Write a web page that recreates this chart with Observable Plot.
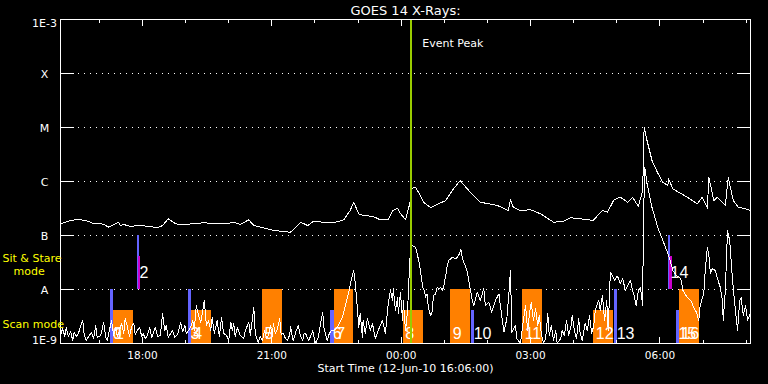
<!DOCTYPE html>
<html><head><meta charset="utf-8">
<script src="https://cdn.jsdelivr.net/npm/d3@7"></script>
<script src="https://cdn.jsdelivr.net/npm/@observablehq/plot@0.6"></script>
<style>
html,body{margin:0;padding:0;background:#000;}
#chart{width:768px;height:384px;overflow:hidden;}
</style></head><body><div id="chart"></div>
<script>
// ---- data (minutes after 12-Jun-10 16:06:00 UT, flux W/m^2) ----
const startTime = "2010-06-12T16:06:00Z";
const spanMinutes = 960;
const peakMinute = 488;
const chartTitle = "GOES 14 X-Rays:";
const xTitle = "Start Time (12-Jun-10 16:06:00)";
const levelFlux = [1e-9, 1e-8, 1e-7, 1e-6, 1e-5, 1e-4, 1e-3];
const levelLabel = ["1E-9", "A", "B", "C", "M", "X", "1E-3"];
const tickLabels = ["18:00", "21:00", "00:00", "03:00", "06:00"];
const tickMinutes = [114, 294, 474, 654, 834];
const hourMinutes = [54, 114, 174, 234, 294, 354, 414, 474, 534, 594, 654, 714, 774, 834, 894, 954];

// GOES long channel (1-8 A)
const longChannel = [
[0,1.65e-7],[7,1.76e-7],[14,1.90e-7],[21,1.95e-7],[28,1.95e-7],[35,1.90e-7],[42,1.76e-7],[46,1.65e-7],[53,1.70e-7],[60,1.60e-7],
[67,1.43e-7],[74,1.58e-7],[81,1.76e-7],[83,1.53e-7],[88,1.60e-7],[97,1.47e-7],[107,1.53e-7],[121,1.49e-7],[135,1.39e-7],[142,1.53e-7],
[150,2.04e-7],[160,1.65e-7],[167,1.58e-7],[185,1.65e-7],[199,1.72e-7],[218,1.65e-7],[232,1.65e-7],[241,1.76e-7],[250,1.60e-7],[262,1.95e-7],
[269,1.53e-7],[278,1.43e-7],[292,1.28e-7],[306,1.20e-7],[320,1.15e-7],[334,1.76e-7],[344,1.53e-7],[352,1.84e-7],[366,1.76e-7],[380,1.72e-7],
[394,1.95e-7],[403,2.90e-7],[408,4.14e-7],[415,2.52e-7],[422,2.35e-7],[435,2.25e-7],[445,1.95e-7],[456,1.95e-7],[462,2.90e-7],[469,3.16e-7],
[473,2.55e-7],[480,1.98e-7],[486,3.91e-7],[488,7.33e-7],[494,7.84e-7],[498,6.34e-7],[505,4.14e-7],[515,3.30e-7],[536,4.45e-7],[545,6.81e-7],
[556,1.04e-6],[568,6.81e-7],[584,4.14e-7],[608,3.59e-7],[623,2.90e-7],[626,4.58e-7],[630,3.34e-7],[640,2.90e-7],[654,3.00e-7],[668,2.52e-7],
[686,1.76e-7],[700,1.84e-7],[710,2.13e-7],[723,2.04e-7],[741,1.90e-7],[754,2.90e-7],[761,2.70e-7],[770,4.58e-7],[779,5.12e-7],[789,4.14e-7],
[796,5.12e-7],[804,3.44e-7],[810,6.81e-7],[812,1.01e-5],[816,5.74e-6],[823,2.45e-6],[831,1.43e-6],[838,9.7e-7],[845,8.43e-7],[846,1.12e-6],
[852,7.33e-7],[856,6.81e-7],[872,5.12e-7],[886,3.86e-7],[893,5.12e-7],[900,3.22e-7],[902,1.20e-6],[909,4.45e-7],[914,5.12e-7],[925,3.59e-7],
[929,1.17e-6],[936,4.45e-7],[943,3.34e-7],[953,3.12e-7],[960,2.90e-7]
];

// GOES short channel (0.5-4 A)
const shortChannel = [
[0,1.41e-9],[3,1.90e-9],[6,1.35e-9],[8,1.98e-9],[11,1.35e-9],[14,1.67e-9],[17,1.14e-9],[19,1.60e-9],[22,1.35e-9],[25,1.53e-9],
[28,2.15e-9],[31,2.67e-9],[33,1.41e-9],[36,1.14e-9],[39,1.35e-9],[43,1.60e-9],[46,1.24e-9],[49,2.15e-9],[51,1.29e-9],[56,1.41e-9],
[60,2.45e-9],[63,1.29e-9],[65,1.14e-9],[68,1.74e-9],[71,2.67e-9],[74,1.41e-9],[77,1.98e-9],[79,1.35e-9],[82,1.74e-9],[85,2.35e-9],
[88,1.53e-9],[90,2.90e-9],[93,2.06e-9],[96,1.35e-9],[99,2.06e-9],[102,2.35e-9],[104,1.47e-9],[107,1.74e-9],[110,1.98e-9],[113,1.35e-9],
[115,1.53e-9],[118,1.24e-9],[121,1.41e-9],[124,1.98e-9],[127,1.29e-9],[129,1.53e-9],[132,1.98e-9],[135,1.35e-9],[139,1.41e-9],[142,3.59e-9],
[145,1.74e-9],[147,2.15e-9],[150,1.29e-9],[153,1.53e-9],[156,1.74e-9],[159,1.29e-9],[163,1.47e-9],[167,2.45e-9],[170,1.67e-9],[173,2.15e-9],
[175,1.53e-9],[178,1.74e-9],[181,1.98e-9],[184,2.67e-9],[186,1.74e-9],[189,5.05e-9],[192,3.30e-9],[195,2.45e-9],[198,4.08e-9],[200,6.25e-9],
[203,2.15e-9],[206,2.67e-9],[209,1.74e-9],[211,3.03e-9],[214,1.53e-9],[218,2.67e-9],[221,1.35e-9],[224,3.03e-9],[227,1.53e-9],[231,1.41e-9],
[234,1.14e-9],[237,2.45e-9],[239,1.74e-9],[241,2.35e-9],[243,1.35e-9],[246,1.98e-9],[250,1.41e-9],[255,1.24e-9],[257,1.74e-9],[262,2.45e-9],
[264,1.41e-9],[269,4.64e-9],[271,1.53e-9],[275,1.04e-9],[278,1.35e-9],[281,1.14e-9],[284,1.74e-9],[287,1.24e-9],[289,1.41e-9],[292,2.15e-9],
[295,1.35e-9],[296,2.35e-9],[299,1.53e-9],[302,1.90e-9],[305,2.90e-9],[307,1.47e-9],[310,1.53e-9],[313,1.24e-9],[316,1.14e-9],[319,1.47e-9],
[320,2.06e-9],[323,1.24e-9],[324,1.14e-9],[328,1.74e-9],[331,2.15e-9],[334,1.35e-9],[337,1.14e-9],[339,1.53e-9],[341,1.53e-9],[345,1.14e-9],
[348,1.35e-9],[351,1.74e-9],[353,1.24e-9],[355,1.00e-9],[359,1.35e-9],[362,2.45e-9],[365,3.75e-9],[366,2.15e-9],[369,1.41e-9],[371,1.14e-9],
[374,1.53e-9],[377,1.74e-9],[380,1.74e-9],[385,1.98e-9],[392,3.03e-9],[397,5.50e-9],[401,8.80e-9],[405,1.60e-8],[408,2.25e-8],[410,1.35e-8],
[413,4.64e-9],[415,1.98e-9],[417,3.59e-9],[420,1.29e-9],[421,2.67e-9],[424,1.53e-9],[427,2.90e-9],[431,1.74e-9],[434,2.35e-9],[438,1.24e-9],
[442,1.74e-9],[448,2.67e-9],[452,1.53e-9],[456,5.50e-9],[459,9.58e-9],[462,6.25e-9],[463,1.04e-8],[466,4.08e-9],[469,7.11e-9],[470,3.59e-9],
[473,8.80e-9],[476,2.67e-9],[477,6.25e-9],[480,1.74e-9],[483,4.08e-9],[484,9.58e-9],[487,6.0e-8],[489,6.5e-8],[494,6.07e-8],[499,3.2e-8],
[501,2.09e-8],[504,1.10e-8],[506,9.58e-9],[508,7.2e-9],[510,8.32e-9],[512,4.4e-9],[515,3.30e-9],[517,3.8e-9],[519,7.74e-9],[522,8.32e-9],
[524,1.10e-8],[526,1.03e-8],[529,1.10e-8],[531,9.58e-9],[533,1.10e-8],[536,1.82e-8],[538,2.78e-8],[540,3.44e-8],[543,3.70e-8],[545,3.96e-8],
[550,3.70e-8],[554,4.26e-8],[557,5.50e-8],[559,3.96e-8],[561,3.20e-8],[563,2.78e-8],[566,2.09e-8],[568,1.47e-8],[570,1.03e-8],[573,6.25e-9],
[575,5.05e-9],[580,8.9e-9],[584,6.25e-9],[589,1.04e-8],[591,5.05e-9],[596,5.82e-9],[600,3.8e-9],[605,6.25e-9],[610,8.32e-9],[612,5.05e-9],
[617,1.62e-9],[621,2.90e-9],[624,8.9e-9],[626,2.25e-8],[628,1.62e-9],[633,2.15e-9],[635,1.22e-9],[640,1.00e-9],[644,2.67e-9],[647,5.05e-9],
[650,1.74e-9],[653,4.08e-9],[655,5.74e-9],[658,2.67e-9],[661,4.45e-9],[664,2.15e-9],[666,3.30e-9],[669,1.53e-9],[672,1.00e-9],[675,1.24e-9],
[678,3.59e-9],[680,1.41e-9],[683,2.15e-9],[686,1.14e-9],[689,1.74e-9],[691,1.00e-9],[696,1.24e-9],[698,1.74e-9],[701,1.41e-9],[704,2.67e-9],
[707,1.41e-9],[710,1.98e-9],[712,3.30e-9],[715,1.74e-9],[718,1.24e-9],[721,2.90e-9],[723,1.53e-9],[726,1.14e-9],[730,2.35e-9],[733,1.74e-9],
[736,3.30e-9],[739,1.53e-9],[742,2.15e-9],[744,4.08e-9],[747,5.50e-9],[749,6.25e-9],[751,4.08e-9],[754,7.74e-9],[757,2.67e-9],[760,6.25e-9],
[762,1.74e-9],[765,2.06e-8],[768,1.82e-8],[771,1.47e-8],[774,1.74e-8],[776,1.67e-8],[779,1.29e-8],[782,1.60e-8],[786,9.58e-9],[789,1.19e-8],
[793,1.47e-8],[796,9.58e-9],[798,7.74e-9],[801,5.05e-9],[804,9.58e-9],[807,1.09e-8],[810,5.05e-9],[811,1.9e-7],[813,1.82e-6],[816,9.2e-7],
[823,3.3e-7],[831,1.41e-7],[838,8.1e-8],[845,4.64e-8],[849,3.16e-8],[852,2.25e-8],[857,1.82e-8],[863,1.60e-8],[866,9.58e-9],[872,7.11e-9],
[877,6.25e-9],[881,4.64e-9],[885,3.75e-9],[888,2.67e-9],[890,5.05e-9],[895,8.4e-9],[897,2.25e-8],[900,6.0e-8],[903,3.44e-8],[904,1.98e-8],
[907,2.45e-8],[911,2.25e-8],[914,1.60e-8],[918,1.09e-8],[921,6.25e-9],[922,2.67e-9],[925,9.58e-9],[928,1.24e-7],[931,8.1e-8],[934,2.25e-8],
[936,1.09e-8],[939,4.08e-9],[942,1.74e-9],[945,6.25e-9],[947,7.11e-9],[950,3.30e-9],[953,5.05e-9],[956,2.67e-9],[960,3.75e-9]
];

// Observations: label, kind, start, end (minutes), bottom flux, top flux
const obsLabel = ["0","1","2","3","4","5","6","7","8","9","10","11","12","13","14","15","16"];
const obsKind  = ["short","raster","sit","short","raster","raster","short","raster","raster","raster","short","raster","raster","short","sit","short","raster"];
const obsStart = [70, 73, 107, 178, 182, 281, 376, 381, 477, 543, 572, 643, 742, 771, 846, 857, 861];
const obsEnd   = [74, 101, 110, 182, 210, 309, 381, 408, 505, 570, 576, 671, 769, 775, 849, 861, 889];
const obsBottom= [1e-9, 1e-9, 1e-8, 1e-9, 1e-9, 1e-9, 1e-9, 1e-9, 1e-9, 1e-9, 1e-9, 1e-9, 1e-9, 1e-9, 1e-8, 1e-9, 1e-9];
const obsTop   = [1e-8, 4.1e-9, 1e-7, 1e-8, 4.1e-9, 1e-8, 4.1e-9, 1e-8, 4.1e-9, 1e-8, 4.1e-9, 1e-8, 4.1e-9, 1e-8, 1e-7, 4.1e-9, 1e-8];
// sit & stare duration markers
const stareStart = [108, 847];
const stareEnd   = [111, 851];
const stareTop   = [4.1e-8, 4.1e-8];
const stareBottom= [1e-8, 1e-8];

// ---- build ----
const t0 = new Date(startTime);
const toDate = m => new Date(+t0 + m * 60000);
const longData = longChannel.map(([m, f]) => ({t: toDate(m), f}));
const shortData = shortChannel.map(([m, f]) => ({t: toDate(m), f}));
const obs = obsLabel.map((label, i) => ({label, kind: obsKind[i], t1: toDate(obsStart[i]), t2: toDate(obsEnd[i]), b: obsBottom[i], top: obsTop[i]}));
const stare = stareStart.map((s, i) => ({t1: toDate(s), t2: toDate(stareEnd[i]), b: stareBottom[i], top: stareTop[i]}));
const majorTicks = tickMinutes.map((m, i) => ({t: toDate(m), label: tickLabels[i]}));
const minorTicks = hourMinutes.map(toDate);
const peak = toDate(peakMinute);

const ORANGE = "#ff8000", BLUE = "#6464ff", MAGENTA = "#cc00cc", GREEN = "#99cc00", YELLOW = "#ffff00";
const FONT = "DejaVu Sans";
const M = "middle";

const chart = Plot.plot({
  width: 768, height: 384,
  marginTop: 19, marginBottom: 41, marginLeft: 60, marginRight: 18,
  style: {background: "black", color: "white", fontFamily: FONT, fontSize: "11px", shapeRendering: "crispEdges"},
  x: {type: "utc", domain: [t0, toDate(spanMinutes)]},
  y: {type: "log", domain: [1e-9, 1e-3]},
  marks: [
    // dotted grid at flare classes
    Plot.ruleY(levelFlux.slice(1, -1), {stroke: "white", strokeDasharray: "1,5", strokeDashoffset: -4, insetLeft: 14, insetRight: 14}),
    // observation bars
    Plot.rect(obs.filter(d => d.kind === "raster"), {x1: "t1", x2: "t2", y1: "b", y2: "top", fill: ORANGE}),
    Plot.rect(obs.filter(d => d.kind !== "raster"), {x1: "t1", x2: "t2", y1: "b", y2: "top", fill: BLUE}),
    Plot.rect(stare, {x1: "t1", x2: "t2", y1: "b", y2: "top", fill: MAGENTA}),
    Plot.text(obs.filter(d => d.kind !== "sit"), {x: "t1", y: "b", text: "label", dx: 2, dy: -10, lineAnchor: M, textAnchor: "start", fill: "white", fontSize: 16, fontFamily: "Liberation Sans"}),
    Plot.text(obs.filter(d => d.kind === "sit"), {x: "t1", y: "b", text: "label", dx: 2, dy: -17, lineAnchor: M, textAnchor: "start", fill: "white", fontSize: 16, fontFamily: "Liberation Sans"}),
    // light curves
    Plot.line(longData, {x: "t", y: "f", stroke: "white", strokeWidth: 1}),
    Plot.line(shortData, {x: "t", y: "f", stroke: "white", strokeWidth: 1}),
    // event peak
    Plot.ruleX([peak], {stroke: GREEN, strokeWidth: 2}),
    Plot.text([peak], {x: d => d, frameAnchor: "top", lineAnchor: M, dy: 24, dx: 11, textAnchor: "start", text: () => "Event Peak", fill: "white", fontSize: 11}),
    // frame & ticks
    Plot.frame({stroke: "white"}),
    Plot.axisY(levelFlux, {anchor: "left", tickSize: -14, fill: "none", label: null}),
    Plot.axisY(levelFlux, {anchor: "right", tickSize: -14, fill: "none", label: null}),
    Plot.axisX(minorTicks, {anchor: "bottom", tickSize: -3, fill: "none", label: null}),
    Plot.axisX(minorTicks, {anchor: "top", tickSize: -3, fill: "none", label: null}),
    Plot.axisX(majorTicks.map(d => d.t), {anchor: "bottom", tickSize: -6, fill: "none", label: null}),
    Plot.axisX(majorTicks.map(d => d.t), {anchor: "top", tickSize: -6, fill: "none", label: null}),
    // axis labels
    Plot.text(majorTicks, {x: "t", text: "label", frameAnchor: "bottom", lineAnchor: M, dy: 12, fill: "white", fontSize: 10.5}),
    Plot.text([xTitle], {frameAnchor: "bottom", lineAnchor: M, dy: 25, fill: "white", fontSize: 11}),
    Plot.text([chartTitle], {frameAnchor: "top", lineAnchor: M, dy: -9, fill: "white", fontSize: 13}),
    Plot.text(levelFlux.slice(1, -1), {y: d => d, text: (d, i) => levelLabel[i + 1], frameAnchor: "left", lineAnchor: M, dx: -16, dy: 1, textAnchor: "middle", fill: "white", fontSize: 11}),
    Plot.text([levelFlux[6]], {y: d => d, text: () => levelLabel[6], frameAnchor: "left", lineAnchor: M, dx: -16, dy: 4, textAnchor: "middle", fill: "white", fontSize: 11}),
    Plot.text([levelFlux[0]], {y: d => d, text: () => levelLabel[0], frameAnchor: "left", lineAnchor: M, dx: -16, dy: -3, textAnchor: "middle", fill: "white", fontSize: 11}),
    // mode labels
    Plot.text(["Sit & Stare"], {frameAnchor: "bottom-left", lineAnchor: M, dx: -58, dy: -85, textAnchor: "start", fill: YELLOW, fontSize: 11}),
    Plot.text(["mode"], {frameAnchor: "bottom-left", lineAnchor: M, dx: -47, dy: -72, textAnchor: "start", fill: YELLOW, fontSize: 11}),
    Plot.text(["Scan mode"], {frameAnchor: "bottom-left", lineAnchor: M, dx: -58, dy: -19, textAnchor: "start", fill: YELLOW, fontSize: 11})
  ]
});
document.getElementById("chart").appendChild(chart);
</script></body></html>
